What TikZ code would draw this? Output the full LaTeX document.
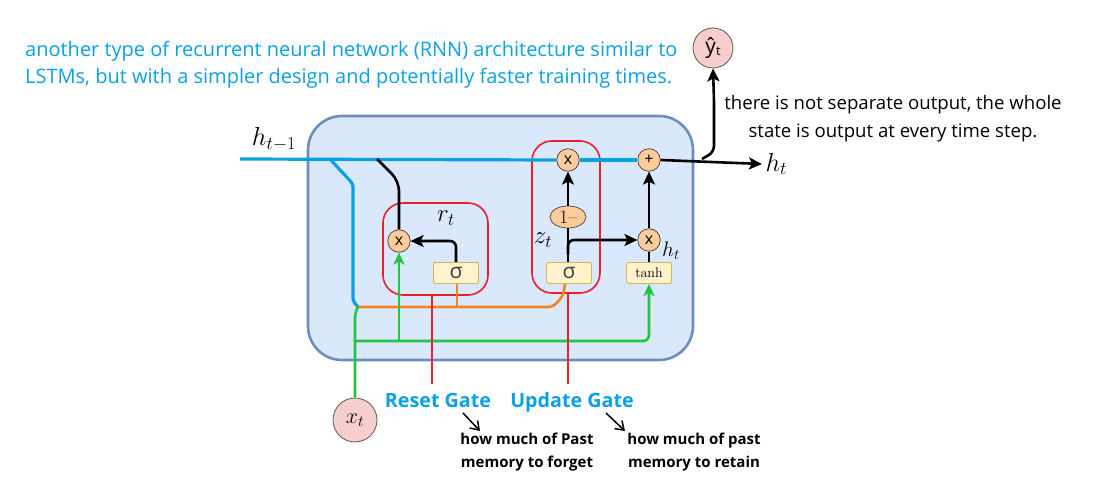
\RequirePackage{fix-cm}
\documentclass[tikz,border=0pt]{standalone}
\usepackage{fontspec}
\usetikzlibrary{arrows.meta,shapes.geometric}
\newfontfamily\segoe{Open Sans}
\definecolor{boxfill}{HTML}{DAE8FC}
\definecolor{boxdraw}{HTML}{6C8EBF}
\definecolor{lblue}{HTML}{0AA0E6}
\definecolor{gred}{HTML}{E8202A}
\definecolor{lgreen}{HTML}{22C440}
\definecolor{lorange}{HTML}{F58220}
\definecolor{sigfill}{HTML}{FFF2CC}
\definecolor{sigdraw}{HTML}{D6B656}
\definecolor{opfill}{HTML}{FFCC99}
\definecolor{pinkfill}{HTML}{F8CECC}
\begin{document}
\begin{tikzpicture}[x=1pt,y=-1pt,
  bigbox/.style={draw=boxdraw,fill=boxfill,line width=2.6pt,rounded corners=34pt},
  gatebox/.style={draw=gred,line width=1.6pt,rounded corners=20pt},
  sigbox/.style={draw=sigdraw,fill=sigfill,line width=0.9pt,rounded corners=2pt,minimum width=45pt,minimum height=21pt,inner sep=0pt},
  opnode/.style={circle,draw=black!75,fill=opfill,line width=0.7pt,minimum size=22.5pt,inner sep=0pt,font=\segoe\fontsize{16}{16}\selectfont},
  iocircle/.style={circle,draw=black!65,fill=pinkfill,line width=0.8pt,minimum size=44pt,inner sep=0pt},
  blk/.style={draw=black,line width=2.6pt},
  arr/.style={-{Stealth[length=13pt,width=12pt,inset=3pt]}},
  bl/.style={draw=lblue,line width=3.2pt},
  gr/.style={draw=lgreen,line width=2.6pt},
  orl/.style={draw=lorange,line width=2.6pt},
  rl/.style={draw=gred,line width=2.6pt},
  garr/.style={-{Stealth[length=12pt,width=11pt,inset=3pt]}},
  bluetxt/.style={text=lblue,font=\segoe\fontsize{20}{27}\selectfont,inner sep=0pt,anchor=base west},
  gatetxt/.style={text=lblue,font=\segoe\bfseries\fontsize{19.7}{20}\selectfont,anchor=base,inner sep=0pt},
  notetxt/.style={text=black,font=\segoe\bfseries\fontsize{15}{15}\selectfont,anchor=base,inner sep=0pt},
  outtxt/.style={text=black,font=\segoe\fontsize{18.6}{20}\selectfont,anchor=base,inner sep=0pt},
  smallarr/.style={draw=black,line width=1.5pt,-{Straight Barb[length=8pt,width=11pt]}}
]
\useasboundingbox (0,0) rectangle (1096,492);

% main box
\draw[bigbox] (308,116) rectangle (693,360);

% gate boxes
\node[gatebox,minimum width=105pt,minimum height=92pt] (resetbox) at (435.5,249) {};
\node[gatebox,minimum width=68pt,minimum height=152pt] (updatebox) at (566,217) {};

% nodes
\node[opnode] (mulR) at (399,241) {x};
\node[sigbox] (sigR) at (456,273) {\segoe\fontsize{21}{21}\selectfont\color{black!75}σ};
\node[opnode] (mulU) at (568,160) {x};
\node[ellipse,draw=black!75,fill=opfill,line width=0.7pt,minimum width=36pt,minimum height=22pt,inner sep=0pt] (oneminus) at (568,217) {\fontsize{19}{19}\selectfont 1--};
\node[sigbox] (sigU) at (569,273) {\segoe\fontsize{21}{21}\selectfont\color{black!75}σ};
\node[opnode] (mulH) at (649,240) {x};
\node[opnode] (plus) at (649,160) {+};
\node[sigbox] (tanh) at (649,273) {\fontsize{14}{14}\selectfont tanh};
\node[iocircle] (xt) at (355,420) {\fontsize{22}{22}\selectfont$x_t$};
\node[iocircle,minimum size=40pt] (yhat) at (713,48) {\segoe\fontsize{21}{21}\selectfont ŷ\raisebox{-2pt}{\fontsize{13}{13}\selectfont t}};

% labels
\node (hprev) at (274,139) {\fontsize{26}{26}\selectfont$h_{t-1}$};
\node[anchor=west] (hnext) at (762,164) {\fontsize{26}{26}\selectfont$h_t$};
\node (rt) at (446,218) {\fontsize{25}{25}\selectfont$r_t$};
\node (zt) at (543,240) {\fontsize{25}{25}\selectfont$z_t$};
\node (htl) at (671,251) {\fontsize{21}{21}\selectfont$h_t$};

% coordinates
\coordinate (hin) at (240,159);
\coordinate (orj) at (358,307);

% blue memory line
\draw[bl] (hin) -- (mulU.west);
\draw[bl] (mulU.east) -- (plus.west);
\draw[bl,rounded corners=3pt] (330,159) -- (353,184) -- (353,301) -- (orj);

% orange concatenation line
\draw[orl,rounded corners=5pt] (orj) -- (553,307) -- (563,296) -- (sigU.south -| 565,0);
\draw[orl] (457,307) -- (sigR.south -| 457,0);

% green input lines
\draw[gr,rounded corners=5pt] (xt.north) -- (355,313) -- (orj);
\draw[gr,rounded corners=6pt,garr] (355,341) -- (649,341) -- (tanh.south);
\draw[gr,garr] (399,341) -- (mulR.south);

% reset gate
\draw[blk,rounded corners=10pt] (377,159) -- (399,181) -- (mulR.north);
\draw[blk,arr,rounded corners=6pt] (sigR.north) -- (456,241) -- (mulR.east);

% update gate
\draw[blk] (sigU.north -| 568,0) -- (oneminus.south);
\draw[blk,arr] (oneminus.north) -- (mulU.south);
\draw[blk,arr,rounded corners=6pt] (568,254) -- (568,240) -- (mulH.west);
\draw[blk] (tanh.north) -- (mulH.south);
\draw[blk,arr] (mulH.north) -- (plus.south);

% output
\draw[blk,arr] (plus.east) -- (hnext.west);
\draw[blk,arr,rounded corners=6pt] (702,159) -- (714,152) -- (714,100) -- (yhat.south);

% gate pointer lines
\node[gatetxt] (rg) at (438,407) {Reset Gate};
\node[gatetxt] (ug) at (572,407) {Update Gate};
\draw[rl] (resetbox.south -| 432,0) -- (432,384);
\draw[rl] (updatebox.south -| 568,0) -- (568,384);

% notes
\node[notetxt] (n1a) at (527,444) {how much of Past};
\node[notetxt] (n1b) at (527,467) {memory to forget};
\node[notetxt] (n2a) at (694,444) {how much of past};
\node[notetxt] (n2b) at (694,467) {memory to retain};
\draw[smallarr] (463,413) -- (480,431);
\draw[smallarr] (606,413) -- (625,431);

% texts
\node[bluetxt] (desc1) at (25,57) {another type of recurrent neural network (RNN) architecture similar to};
\node[bluetxt] (desc2) at (25,84) {LSTMs, but with a simpler design and potentially faster training times.};
\node[outtxt] (out1) at (893,110) {there is not separate output, the whole};
\node[outtxt] (out2) at (893,138) {state is output at every time step.};
\end{tikzpicture}
\end{document}
